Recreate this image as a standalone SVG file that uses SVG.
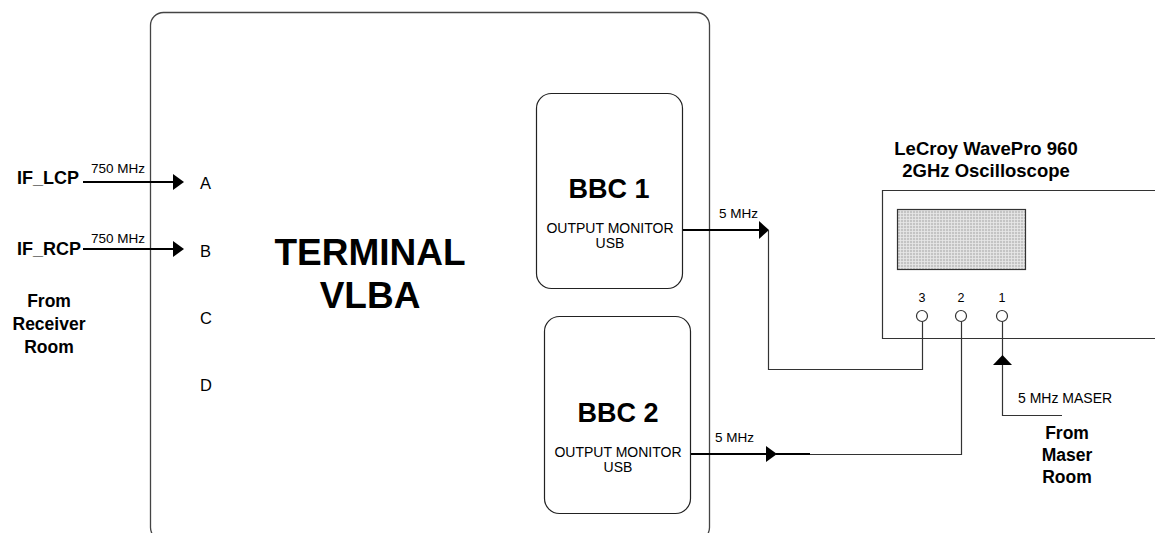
<svg xmlns="http://www.w3.org/2000/svg" width="1155" height="533" viewBox="0 0 1155 533">
<style>
text{font-family:"Liberation Sans",Arial,sans-serif;fill:#000}
.b{font-weight:bold}
.box{fill:none;stroke:#444;stroke-width:1.3}
.dev{fill:#fff;stroke:#222;stroke-width:1.2}
.w{fill:none;stroke:#333;stroke-width:1.2}
.s{fill:none;stroke:#000;stroke-width:1.8}
.ah{fill:#000}
</style>
<defs>
<pattern id="mesh" width="3" height="3" patternUnits="userSpaceOnUse">
<rect width="3" height="3" fill="#c4c4c4"/>
<path d="M0 0.5H3M0.5 0V3" stroke="#e8e8e8" stroke-width="0.8"/>
</pattern>
</defs>
<g id="terminal">
<rect class="box" x="150.5" y="12.5" width="559" height="528" rx="13"/>
<text class="b" x="370" y="265" font-size="37" text-anchor="middle">TERMINAL</text>
<text class="b" x="370" y="308" font-size="37" text-anchor="middle">VLBA</text>
<text x="200" y="189" font-size="16.5">A</text>
<text x="200" y="257" font-size="16.5">B</text>
<text x="200" y="324" font-size="16.5">C</text>
<text x="200" y="391" font-size="16.5">D</text>
</g>
<g id="bbc1">
<rect class="dev" x="536.5" y="93.5" width="146" height="195" rx="15"/>
<text class="b" x="609" y="198" font-size="27" text-anchor="middle">BBC 1</text>
<text x="610" y="233" font-size="14" text-anchor="middle">OUTPUT MONITOR</text>
<text x="610" y="248" font-size="14" text-anchor="middle">USB</text>
</g>
<g id="bbc2">
<rect class="dev" x="544.5" y="316.5" width="146" height="197" rx="15"/>
<text class="b" x="618" y="422" font-size="27" text-anchor="middle">BBC 2</text>
<text x="618" y="457" font-size="14" text-anchor="middle">OUTPUT MONITOR</text>
<text x="618" y="472" font-size="14" text-anchor="middle">USB</text>
</g>
<g id="scope">
<text class="b" x="986" y="155" font-size="18.5" text-anchor="middle">LeCroy WavePro 960</text>
<text class="b" x="986" y="177" font-size="18.5" text-anchor="middle">2GHz Oscilloscope</text>
<path class="w" d="M1160 190.5H882.5V338.5H1160"/>
<rect x="897.5" y="209.5" width="128" height="60" fill="url(#mesh)" stroke="#333" stroke-width="1.2"/>
<text x="922" y="302" font-size="12.5" text-anchor="middle">3</text>
<text x="961" y="302" font-size="12.5" text-anchor="middle">2</text>
<text x="1002" y="302" font-size="12.5" text-anchor="middle">1</text>
<circle class="w" cx="922" cy="316" r="5.5" fill="#fff"/>
<circle class="w" cx="961" cy="316" r="5.5" fill="#fff"/>
<circle class="w" cx="1002" cy="316" r="5.5" fill="#fff"/>
</g>
<g id="receiver-room">
<text class="b" x="17" y="184" font-size="18">IF_LCP</text>
<text class="b" x="17" y="255" font-size="18">IF_RCP</text>
<text class="b" x="49" y="307" font-size="17.5" text-anchor="middle">From</text>
<text class="b" x="49" y="330" font-size="17.5" text-anchor="middle">Receiver</text>
<text class="b" x="49" y="353" font-size="17.5" text-anchor="middle">Room</text>
</g>
<g id="maser-room">
<text x="1018" y="403" font-size="14">5 MHz MASER</text>
<text class="b" x="1067" y="439" font-size="17.5" text-anchor="middle">From</text>
<text class="b" x="1067" y="461" font-size="17.5" text-anchor="middle">Maser</text>
<text class="b" x="1067" y="483" font-size="17.5" text-anchor="middle">Room</text>
</g>
<g id="connectors">
<path class="s" d="M83 182H175" stroke-width="1.3"/>
<path class="ah" d="M184 182L173 174V190Z"/>
<text x="91" y="173" font-size="13.5">750 MHz</text>
<path class="s" d="M83 249H175" stroke-width="1.3"/>
<path class="ah" d="M184 249L173 241V257Z"/>
<text x="91" y="243" font-size="13.5">750 MHz</text>
<path class="s" d="M683 230H760"/>
<path class="ah" d="M769 230L759 221V239Z"/>
<text x="719" y="218" font-size="13.5">5 MHz</text>
<path class="w" d="M768.5 230V369.5H922.5V321.5"/>
<path class="s" d="M691 454H767" stroke-width="1.3"/>
<path class="ah" d="M777 454L766 446V462Z"/>
<path class="s" d="M776 454H810" stroke-width="1.3"/>
<text x="715" y="442" font-size="13.5">5 MHz</text>
<path class="w" d="M810 454.5H961.5V321.5"/>
<path class="w" d="M1002.5 321.5V415.5H1062"/>
<path class="ah" d="M1002.5 355L993 365H1012Z"/>
</g>
</svg>
